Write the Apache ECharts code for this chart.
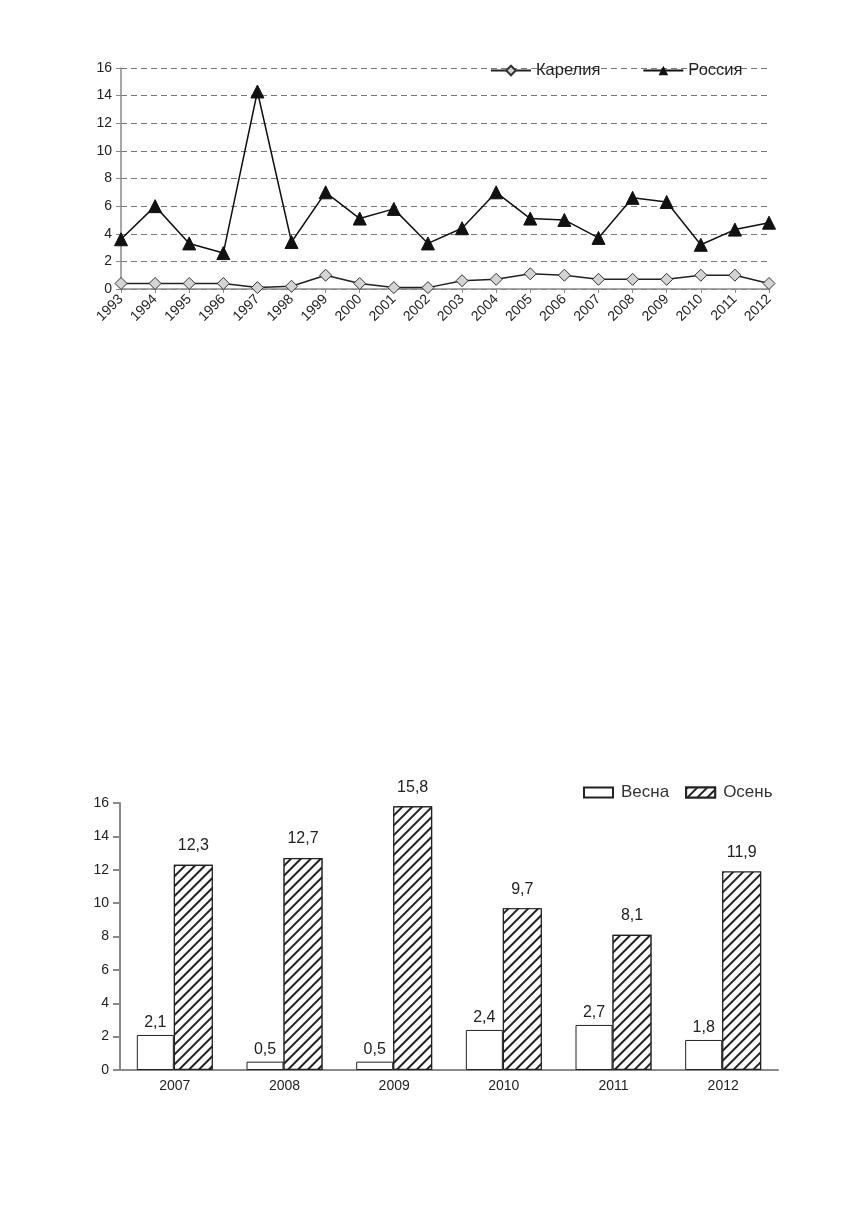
<!DOCTYPE html>
<html lang="ru">
<head>
    <meta charset="UTF-8">
    <title>Chart</title>
    <script src="https://cdnjs.cloudflare.com/ajax/libs/echarts/6.0.0/echarts.min.js"></script>
    <style>
        html, body { margin: 0; padding: 0; background: #fff; }
    </style>
</head>
<body>
    <div id="main" style="width: 856px;height:1229px;"></div>

    <script type="text/javascript">
        // верхний график
        const years = ['1993', '1994', '1995', '1996', '1997', '1998', '1999', '2000', '2001', '2002',
            '2003', '2004', '2005', '2006', '2007', '2008', '2009', '2010', '2011', '2012'];
        const karelia = [0.4, 0.4, 0.4, 0.4, 0.1, 0.2, 1.0, 0.4, 0.1, 0.1,
            0.6, 0.7, 1.1, 1.0, 0.7, 0.7, 0.7, 1.0, 1.0, 0.4];
        const russia = [3.6, 6.0, 3.3, 2.6, 14.3, 3.4, 7.0, 5.1, 5.8, 3.3,
            4.4, 7.0, 5.1, 5.0, 3.7, 6.6, 6.3, 3.2, 4.3, 4.8];

        // нижний график
        const seasonYears = ['2007', '2008', '2009', '2010', '2011', '2012'];
        const spring = [2.1, 0.5, 0.5, 2.4, 2.7, 1.8];
        const autumn = [12.3, 12.7, 15.8, 9.7, 8.1, 11.9];

        const font = 'Liberation Sans, Arial, sans-serif';
        const gray = '#8a8a8a';
        const fmt = (p) => String(p.value).replace('.', ',');

        const myChart = echarts.init(document.getElementById('main'));

        var option = {
            backgroundColor: '#fff',
            animation: false,
            textStyle: { fontFamily: font },
            legend: [
                {
                    data: ['Карелия', 'Россия'],
                    top: 57,
                    left: 485,
                    itemGap: 42,
                    itemWidth: 40,
                    itemHeight: 12,
                    textStyle: { fontSize: 16.5, color: '#222', fontFamily: font }
                },
                {
                    data: ['Весна', 'Осень'],
                    top: 779,
                    left: 578,
                    itemGap: 16,
                    itemWidth: 29,
                    itemHeight: 10,
                    icon: 'rect',
                    textStyle: { fontSize: 17, color: '#333', fontFamily: font, padding: [0, 0, 0, 3] }
                }
            ],
            grid: [
                { left: 121, right: 87, top: 68, height: 221 },
                { left: 120, right: 78, top: 803, height: 267 }
            ],
            xAxis: [
                {
                    type: 'category',
                    gridIndex: 0,
                    data: years,
                    boundaryGap: false,
                    axisLine: { lineStyle: { color: gray, width: 1.5 } },
                    axisTick: { length: 4, lineStyle: { color: gray } },
                    axisLabel: { rotate: 45, fontSize: 14, color: '#222', margin: 8, interval: 0 }
                },
                {
                    type: 'category',
                    gridIndex: 1,
                    data: seasonYears,
                    axisLine: { lineStyle: { color: gray, width: 2 } },
                    axisTick: { length: 6, lineStyle: { color: gray, width: 2 } },
                    axisLabel: { fontSize: 14, color: '#222', margin: 9 }
                }
            ],
            yAxis: [
                {
                    type: 'value',
                    gridIndex: 0,
                    min: 0,
                    max: 16,
                    interval: 2,
                    axisLine: { show: true, lineStyle: { color: gray, width: 1.5 } },
                    axisTick: { show: true, length: 5, lineStyle: { color: gray } },
                    axisLabel: { fontSize: 14, color: '#222', margin: 9 },
                    splitLine: { lineStyle: { color: '#777', type: [6, 4], width: 1 } }
                },
                {
                    type: 'value',
                    gridIndex: 1,
                    min: 0,
                    max: 16,
                    interval: 2,
                    axisLine: { show: true, lineStyle: { color: gray, width: 2 } },
                    axisTick: { show: true, length: 7, lineStyle: { color: gray, width: 2 } },
                    axisLabel: { fontSize: 14, color: '#222', margin: 11 },
                    splitLine: { show: false }
                }
            ],
            series: [
                {
                    name: 'Карелия',
                    type: 'line',
                    xAxisIndex: 0,
                    yAxisIndex: 0,
                    data: karelia,
                    symbol: 'diamond',
                    symbolSize: 12,
                    lineStyle: { color: '#222', width: 1.5 },
                    itemStyle: { color: '#d4d4d4', borderColor: '#333', borderWidth: 1 },
                    z: 3
                },
                {
                    name: 'Россия',
                    type: 'line',
                    xAxisIndex: 0,
                    yAxisIndex: 0,
                    data: russia,
                    symbol: 'triangle',
                    symbolSize: 13,
                    lineStyle: { color: '#111', width: 1.5 },
                    itemStyle: { color: '#111', borderColor: '#111' },
                    z: 3
                },
                {
                    name: 'Весна',
                    type: 'bar',
                    xAxisIndex: 1,
                    yAxisIndex: 1,
                    data: spring,
                    barWidth: 37,
                    barGap: '0%',
                    itemStyle: { color: '#fff', borderColor: '#222', borderWidth: 1 },
                    label: { show: true, position: 'top', distance: 4, fontSize: 16, color: '#222', formatter: fmt }
                },
                {
                    name: 'Осень',
                    type: 'bar',
                    xAxisIndex: 1,
                    yAxisIndex: 1,
                    data: autumn,
                    barWidth: 39,
                    barGap: '0%',
                    itemStyle: {
                        color: '#fff',
                        borderColor: '#222',
                        borderWidth: 1.2,
                        decal: {
                            symbol: 'rect',
                            symbolSize: 1,
                            color: '#222',
                            backgroundColor: '#fff',
                            dashArrayX: [1, 0],
                            dashArrayY: [1.6, 4.2],
                            rotation: -Math.PI / 4
                        }
                    },
                    label: { show: true, position: 'top', distance: 11, fontSize: 16, color: '#222', formatter: fmt }
                }
            ],
            graphic: [
                {
                    // верх легенды в оригинале обрезан краем скана
                    type: 'rect',
                    shape: { x: 560, y: 760, width: 260, height: 25 },
                    style: { fill: '#fff' },
                    z: 100
                }
            ]
        };

        myChart.setOption(option);
    </script>
</body>
</html>
